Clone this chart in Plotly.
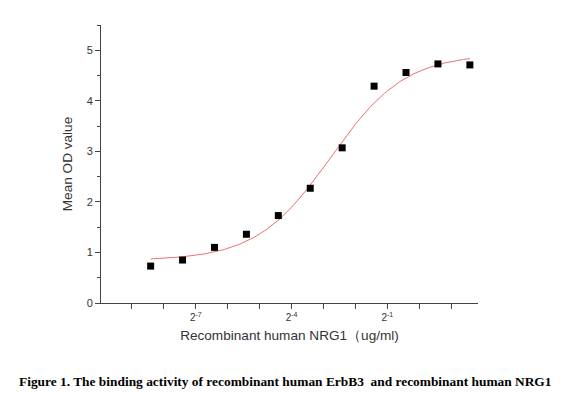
import numpy as np
import plotly.graph_objects as go

# Concentrations (ug/ml), serial 2-fold dilutions
conc = [3 / 2**k for k in range(10, -1, -1)]
od_values = [0.73, 0.85, 1.10, 1.36, 1.73, 2.27, 3.07, 4.29, 4.56, 4.73, 4.71]

# 4-parameter logistic fit parameters
fit_bottom = 0.84
fit_top = 4.93
fit_ec50_log2 = -2.77
fit_hill = 1.24

x_label_exps = [-7, -4, -1]
x_label_text = ["2<sup>-7</sup>", "2<sup>-4</sup>", "2<sup>-1</sup>"]
x_minor_exps = list(range(-9, 2))
y_tick_vals = [0, 1, 2, 3, 4, 5]

fit_u = np.linspace(np.log2(conc[0]), np.log2(conc[-1]), 200)
fit_x = 2.0 ** fit_u
fit_y = fit_top + (fit_bottom - fit_top) / (1 + 2.0 ** (fit_hill * (fit_u - fit_ec50_log2)))

fig = go.Figure()
fig.add_trace(go.Scatter(x=fit_x, y=fit_y, mode="lines",
                         line=dict(color="#f07070", width=1), hoverinfo="skip"))
fig.add_trace(go.Scatter(x=conc, y=od_values, mode="markers",
                         marker=dict(symbol="square", size=7, color="black")))

axis_color = "#444444"
fig.update_layout(
    width=553, height=389,
    margin=dict(l=93, r=83, t=17, b=94, autoexpand=False),
    paper_bgcolor="white", plot_bgcolor="white",
    showlegend=False,
    font=dict(family="Liberation Sans, Arial, sans-serif", color="#333333"),
    xaxis=dict(
        type="log",
        range=[-9.97 * np.log10(2), 1.84 * np.log10(2)],
        tickvals=[2.0**e for e in x_label_exps],
        ticktext=x_label_text,
        ticks="outside", ticklen=5, tickwidth=1, tickcolor=axis_color,
        minor=dict(tickvals=[2.0**e for e in x_minor_exps], ticks="outside",
                   ticklen=5, tickwidth=1, tickcolor=axis_color, showgrid=False),
        showline=True, linecolor=axis_color, linewidth=1,
        showgrid=False, zeroline=False,
        tickfont=dict(size=10),
        title=dict(text="Recombinant human NRG1（ug/ml)", font=dict(size=13.6), standoff=8),
    ),
    yaxis=dict(
        range=[0, 5.5],
        tickvals=y_tick_vals,
        ticks="outside", ticklen=5, tickwidth=1, tickcolor=axis_color,
        minor=dict(dtick=0.5, ticks="outside", ticklen=3, tickcolor=axis_color, showgrid=False),
        showline=True, linecolor=axis_color, linewidth=1,
        showgrid=False, zeroline=False,
        tickfont=dict(size=11),
        title=dict(text="Mean OD value", font=dict(size=13.6), standoff=10),
    ),
    annotations=[dict(
        text="<b>Figure 1. The binding activity of recombinant human ErbB3  and recombinant human NRG1</b>",
        xref="paper", yref="paper", x=(545 - 93) / 377, y=(294.7 - 373) / 277.7,
        xanchor="right", yanchor="middle", showarrow=False,
        font=dict(family="Liberation Serif, Times New Roman, serif", size=13.4, color="black"),
    )],
)

fig.write_html("out.html")
